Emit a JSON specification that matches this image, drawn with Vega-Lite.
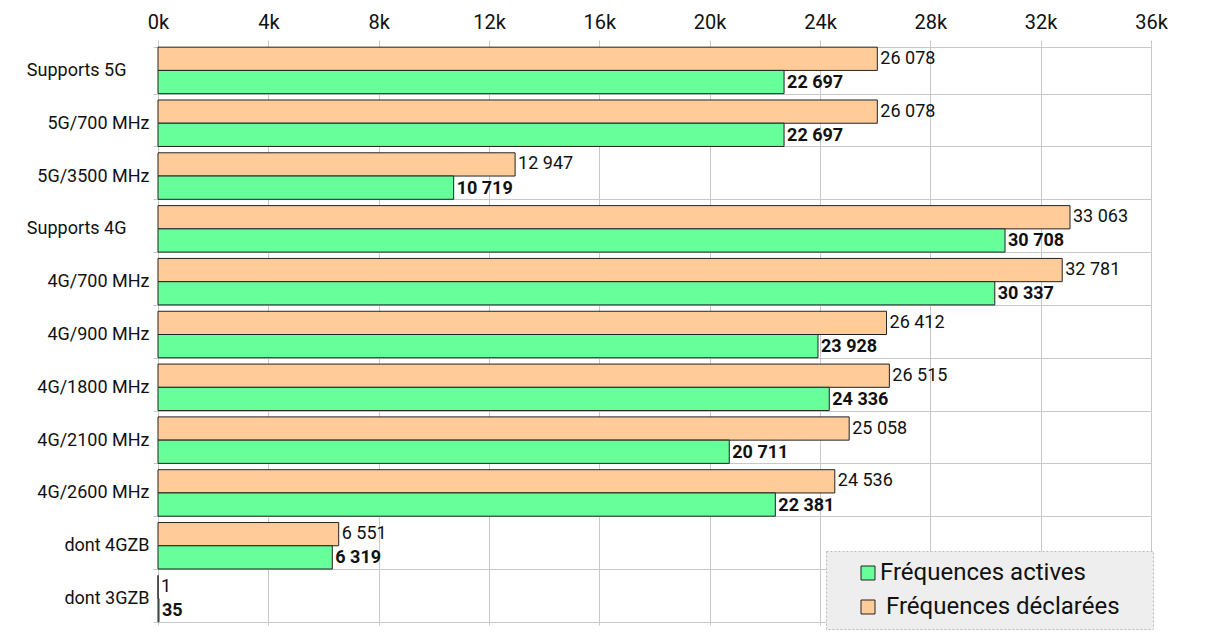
{
  "$schema": "https://vega.github.io/schema/vega-lite/v6.json",
  "width": 993,
  "height": 581,
  "autosize": "none",
  "padding": {"left": 158, "top": 44, "right": 54, "bottom": 19},
  "background": "white",
  "data": {
    "values": [
      {"cat": "Supports 5G", "serie": "Fréquences déclarées", "value": 26078},
      {"cat": "Supports 5G", "serie": "Fréquences actives", "value": 22697},
      {"cat": "5G/700 MHz", "serie": "Fréquences déclarées", "value": 26078},
      {"cat": "5G/700 MHz", "serie": "Fréquences actives", "value": 22697},
      {"cat": "5G/3500 MHz", "serie": "Fréquences déclarées", "value": 12947},
      {"cat": "5G/3500 MHz", "serie": "Fréquences actives", "value": 10719},
      {"cat": "Supports 4G", "serie": "Fréquences déclarées", "value": 33063},
      {"cat": "Supports 4G", "serie": "Fréquences actives", "value": 30708},
      {"cat": "4G/700 MHz", "serie": "Fréquences déclarées", "value": 32781},
      {"cat": "4G/700 MHz", "serie": "Fréquences actives", "value": 30337},
      {"cat": "4G/900 MHz", "serie": "Fréquences déclarées", "value": 26412},
      {"cat": "4G/900 MHz", "serie": "Fréquences actives", "value": 23928},
      {"cat": "4G/1800 MHz", "serie": "Fréquences déclarées", "value": 26515},
      {"cat": "4G/1800 MHz", "serie": "Fréquences actives", "value": 24336},
      {"cat": "4G/2100 MHz", "serie": "Fréquences déclarées", "value": 25058},
      {"cat": "4G/2100 MHz", "serie": "Fréquences actives", "value": 20711},
      {"cat": "4G/2600 MHz", "serie": "Fréquences déclarées", "value": 24536},
      {"cat": "4G/2600 MHz", "serie": "Fréquences actives", "value": 22381},
      {"cat": "dont 4GZB", "serie": "Fréquences déclarées", "value": 6551},
      {"cat": "dont 4GZB", "serie": "Fréquences actives", "value": 6319},
      {"cat": "dont 3GZB", "serie": "Fréquences déclarées", "value": 1},
      {"cat": "dont 3GZB", "serie": "Fréquences actives", "value": 35}
    ]
  },
  "encoding": {
    "y": {
      "field": "cat",
      "type": "nominal",
      "sort": null,
      "title": null,
      "scale": {"paddingInner": 0.12, "paddingOuter": 0.06},
      "axis": {
        "tickBand": "extent",
        "domain": false,
        "grid": true,
        "gridColor": "#c8c8c8",
        "tickColor": "#c8c8c8",
        "tickSize": 5,
        "labelPadding": {
          "condition": {"test": "datum.value == 'Supports 5G' || datum.value == 'Supports 4G'", "value": 27},
          "value": 4
        },
        "labelFont": "Roboto",
        "labelFontSize": 18,
        "labelColor": "#111"
      }
    },
    "yOffset": {
      "field": "serie",
      "type": "nominal",
      "sort": ["Fréquences déclarées", "Fréquences actives"]
    },
    "x": {
      "field": "value",
      "type": "quantitative",
      "title": null,
      "scale": {"domain": [0, 36000], "nice": false},
      "axis": {
        "orient": "top",
        "values": [0, 4000, 8000, 12000, 16000, 20000, 24000, 28000, 32000, 36000],
        "labelExpr": "(datum.value / 1000) + 'k'",
        "domain": false,
        "grid": true,
        "gridColor": "#c8c8c8",
        "tickColor": "#c8c8c8",
        "tickSize": 4,
        "labelPadding": 8,
        "labelFont": "Roboto",
        "labelFontSize": 20,
        "labelColor": "#111",
        "labelFlush": false
      }
    }
  },
  "layer": [
    {
      "mark": {"type": "bar", "stroke": "#222", "strokeWidth": 1},
      "encoding": {
        "color": {
          "field": "serie",
          "type": "nominal",
          "scale": {
            "domain": ["Fréquences actives", "Fréquences déclarées"],
            "range": ["#66ff99", "#ffcc99"]
          },
          "legend": {
            "title": ".",
            "titleOrient": "right",
            "titleFontSize": 1,
            "titleColor": "#eeeeee",
            "titlePadding": 22,
            "orient": "none",
            "legendX": 668,
            "legendY": 507,
            "padding": 10,
            "symbolOffset": 20,
            "symbolType": "square",
            "symbolSize": 196,
            "symbolStrokeColor": "#222",
            "symbolStrokeWidth": 1,
            "symbolOpacity": 1,
            "labelFont": "Roboto",
            "labelFontSize": 24,
            "labelColor": "#111",
            "labelOffset": 0,
            "labelLimit": 400,
            "rowPadding": 10,
            "fillColor": "#eeeeee",
            "strokeColor": "#bbbbbb",
            "encode": {
              "legend": {"update": {"strokeDash": {"value": [2, 2]}}},
              "labels": {
                "update": {
                  "dx": {"signal": "datum.label == 'Fréquences déclarées' ? 6 : 0"}
                }
              }
            }
          }
        }
      }
    },
    {
      "transform": [{"filter": "datum.serie == 'Fréquences déclarées'"}],
      "mark": {
        "type": "text",
        "align": "left",
        "baseline": "middle",
        "dx": 3,
        "font": "Roboto",
        "fontSize": 18,
        "color": "#111"
      },
      "encoding": {"text": {"field": "value", "type": "quantitative", "format": ",d"}}
    },
    {
      "transform": [{"filter": "datum.serie == 'Fréquences actives'"}],
      "mark": {
        "type": "text",
        "align": "left",
        "baseline": "middle",
        "dx": 3,
        "dy": 1,
        "font": "Roboto",
        "fontSize": 18,
        "fontWeight": "bold",
        "color": "#111"
      },
      "encoding": {"text": {"field": "value", "type": "quantitative", "format": ",d"}}
    }
  ],
  "config": {
    "view": {"stroke": null},
    "locale": {
      "number": {
        "decimal": ",",
        "thousands": " ",
        "grouping": [3],
        "currency": ["", " €"]
      }
    }
  }
}
